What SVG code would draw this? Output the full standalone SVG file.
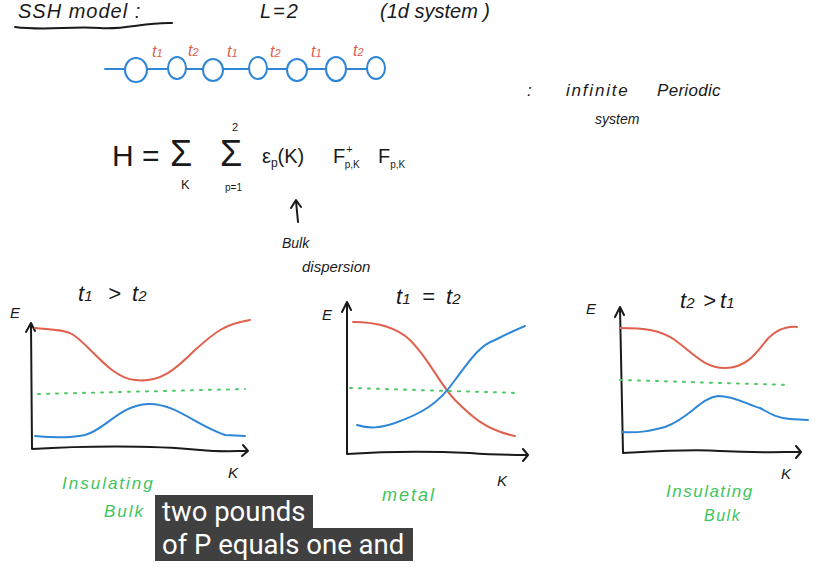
<svg xmlns="http://www.w3.org/2000/svg" width="827" height="572" viewBox="0 0 827 572">
<style>
.ink{font-family:"Liberation Sans",Arial,sans-serif;fill:#1a1a1a}
.hw{font-style:italic}
.red{fill:#e0604e;font-family:"Liberation Sans",Arial,sans-serif;font-style:italic}
.grn{fill:#3fc45c;font-family:"Liberation Sans",Arial,sans-serif;font-style:italic}
.ax{fill:none;stroke:#1a1a1a;stroke-width:2;stroke-linecap:round;stroke-linejoin:round}
.rc{fill:none;stroke:#e0604e;stroke-width:2;stroke-linecap:round}
.bc{fill:none;stroke:#2f86d6;stroke-width:2;stroke-linecap:round}
.gd{fill:none;stroke:#4cc964;stroke-width:2;stroke-dasharray:2 7;stroke-linecap:round}
.cap{fill:#fff;font-family:Roboto,"Liberation Sans",sans-serif;font-size:27.5px}
</style>
<rect width="827" height="572" fill="#fff"/>
<g id="title">
<text class="ink hw" x="18" y="18" font-size="20" letter-spacing="1">SSH  model :</text>
<path class="ax" d="M15,27 C45,31 70,26 100,28 C125,30 145,22 172,23" stroke-width="1.8"/>
<text class="ink hw" x="260" y="18" font-size="20" letter-spacing="2">L=2</text>
<text class="ink hw" x="380" y="18" font-size="20">(1d   system )</text>
</g>
<g id="chain">
<path class="bc" d="M105,69 L378,69"/>
<g fill="#fff" stroke="#2f86d6" stroke-width="2">
<ellipse cx="136" cy="70" rx="11" ry="12"/>
<ellipse cx="177" cy="68" rx="9" ry="11"/>
<ellipse cx="213" cy="70" rx="10" ry="11"/>
<ellipse cx="258" cy="68" rx="9" ry="11"/>
<ellipse cx="297" cy="70" rx="10" ry="11"/>
<ellipse cx="336" cy="69" rx="10" ry="12"/>
<ellipse cx="376" cy="68" rx="9" ry="11"/>
</g>
<text class="red" font-size="16" x="152" y="57">t<tspan font-size="11">1</tspan></text>
<text class="red" font-size="16" x="188" y="56">t<tspan font-size="11">2</tspan></text>
<text class="red" font-size="16" x="227" y="57">t<tspan font-size="11">1</tspan></text>
<text class="red" font-size="16" x="270" y="57">t<tspan font-size="11">2</tspan></text>
<text class="red" font-size="16" x="311" y="57">t<tspan font-size="11">1</tspan></text>
<text class="red" font-size="16" x="353" y="56">t<tspan font-size="11">2</tspan></text>
</g>
<g id="desc">
<text class="ink hw" x="527" y="96" font-size="17">:</text>
<text class="ink hw" x="566" y="96" font-size="17" letter-spacing="1.8">infinite</text>
<text class="ink hw" x="657" y="96" font-size="17" letter-spacing="0.3">Periodic</text>
<text class="ink hw" x="595" y="124" font-size="14">system</text>
</g>
<g id="hamiltonian">
<text class="ink" x="112" y="166" font-size="30">H =</text>
<text class="ink" x="170" y="166" font-size="36">Σ</text>
<text class="ink" x="181" y="189" font-size="13">K</text>
<text class="ink" x="220" y="166" font-size="36">Σ</text>
<text class="ink" x="232" y="131" font-size="11">2</text>
<text class="ink" x="225" y="191" font-size="10">p=1</text>
<text class="ink" x="262" y="163" font-size="20">ε<tspan font-size="12" dy="4">p</tspan><tspan dy="-4">(K)</tspan></text>
<text class="ink" x="333" y="163" font-size="20">F<tspan font-size="11" dy="-10" dx="1">+</tspan><tspan font-size="10" dy="15" dx="-8">p,K</tspan></text>
<text class="ink" x="378" y="163" font-size="20">F<tspan font-size="10" dy="5">p,K</tspan></text>
</g>
<g id="bulk-dispersion">
<path class="ax" d="M298,222 L296,201 M291,208 L296,200 L301,207" stroke-width="1.8"/>
<text class="ink hw" x="282" y="248" font-size="14">Bulk</text>
<text class="ink hw" x="302" y="272" font-size="15">dispersion</text>
</g>
<g id="plot-insulating-1">
<text class="ink hw" x="78" y="301" font-size="22">t<tspan font-size="15">1</tspan></text>
<text class="ink hw" x="108" y="301" font-size="22">&gt;</text>
<text class="ink hw" x="132" y="301" font-size="22">t<tspan font-size="15">2</tspan></text>
<text class="ink hw" x="10" y="318" font-size="15">E</text>
<path class="ax" d="M32,449 L31,324 M26,332 L31,323 M31,323 L35,331 M32,449 C80,446 150,445 200,450 C220,452 235,451 247,451 M243,445 L248,451 L242,456"/>
<text class="ink hw" x="228" y="478" font-size="15">K</text>
<path class="rc" d="M35,328 C55,330 65,330 72,334 C90,345 110,378 135,380 C160,383 175,370 195,350 C215,332 225,324 250,320"/>
<path class="gd" d="M38,394 L245,389"/>
<path class="bc" d="M35,436 C55,438 70,438 85,435 C105,430 120,405 148,404 C175,403 195,425 225,435 L245,436"/>
<text class="grn" x="62" y="489" font-size="17" letter-spacing="2">Insulating</text>
<text class="grn" x="104" y="517" font-size="17" letter-spacing="2">Bulk</text>
</g>
<g id="plot-metal">
<text class="ink hw" x="396" y="304" font-size="22">t<tspan font-size="15">1</tspan></text>
<text class="ink hw" x="422" y="304" font-size="22">=</text>
<text class="ink hw" x="446" y="304" font-size="22">t<tspan font-size="15">2</tspan></text>
<text class="ink hw" x="322" y="320" font-size="15">E</text>
<path class="ax" d="M347,454 L347,304 M342,312 L347,302 L351,310 M347,454 C390,451 430,451 470,453 C495,455 510,455 527,455 M523,449 L528,455 L523,461"/>
<text class="ink hw" x="497" y="486" font-size="15">K</text>
<path class="rc" d="M353,322 C375,322 395,326 410,340 C430,360 440,385 455,400 C470,415 485,430 515,436"/>
<path class="bc" d="M357,425 C370,429 380,428 395,423 C420,414 438,405 455,380 C470,360 480,345 495,340 C505,335 515,330 525,326"/>
<path class="gd" d="M350,388 L518,393"/>
<text class="grn" x="382" y="501" font-size="18" letter-spacing="2">metal</text>
</g>
<g id="plot-insulating-2">
<text class="ink hw" x="680" y="308" font-size="22">t<tspan font-size="15">2</tspan></text>
<text class="ink hw" x="703" y="308" font-size="22">&gt;</text>
<text class="ink hw" x="720" y="308" font-size="22">t<tspan font-size="15">1</tspan></text>
<text class="ink hw" x="586" y="314" font-size="15">E</text>
<path class="ax" d="M623,453 L620,308 M615,317 L620,307 L624,315 M623,453 C660,451 690,449 720,451 C760,453 780,452 800,452 M796,446 L801,452 L796,458"/>
<text class="ink hw" x="781" y="479" font-size="15">K</text>
<path class="rc" d="M620,328 C645,328 660,330 675,340 C695,355 705,368 725,368 C745,368 755,355 765,342 C775,330 785,326 797,327"/>
<path class="gd" d="M620,380 L790,385"/>
<path class="bc" d="M622,432 C640,433 650,431 665,427 C690,418 700,398 718,396 C735,396 748,405 760,408 C768,412 775,418 790,419 L808,420"/>
<text class="grn" x="666" y="497" font-size="17" letter-spacing="1.5">Insulating</text>
<text class="grn" x="704" y="521" font-size="16" letter-spacing="1.5">Bulk</text>
</g>
<g id="caption">
<rect x="155" y="495" width="158" height="33" fill="#404040"/>
<rect x="155" y="528" width="258" height="33" fill="#404040"/>
<text class="cap" x="162" y="521">two pounds</text>
<text class="cap" x="162" y="554">of P equals one and</text>
</g>
</svg>
